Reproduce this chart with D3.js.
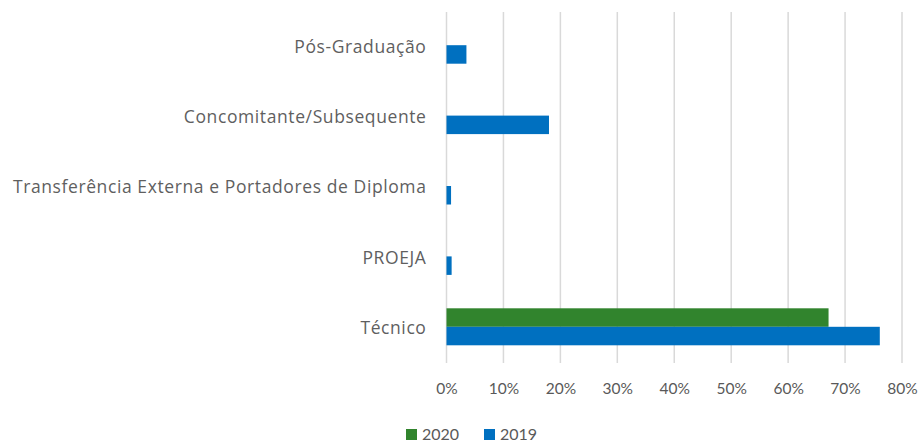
<!DOCTYPE html>
<html><head><meta charset="utf-8">
<script src="https://cdn.jsdelivr.net/npm/d3@7"></script>
<style>body{margin:0;background:#fff}</style>
</head><body>
<svg id="c" width="924" height="444"></svg>
<script>
const categories = ["Pós-Graduação","Concomitante/Subsequente","Transferência Externa e Portadores de Diploma","PROEJA","Técnico"];
const series = ["2020","2019"];
const values2020 = [null, null, null, null, 67.1];
const values2019 = [3.5, 18.0, 0.8, 0.9, 76.1];
const xTicks = [0,10,20,30,40,50,60,70,80];
const colors = {"2020":"#31842D","2019":"#0070C0"};

const svg = d3.select("#c");
const font = "Lato, 'Open Sans', sans-serif";
const m = {left:446.5, right:902, top:10, bottom:362};
const x = d3.scaleLinear().domain([0,80]).range([m.left, m.right]);
const y = d3.scaleBand().domain(categories).range([m.top, m.bottom]);
const barH = 18.5;

// gridlines
svg.append("g").selectAll("line").data(xTicks).join("line")
  .attr("x1", d=>x(d)).attr("x2", d=>x(d))
  .attr("y1", 12).attr("y2", 363)
  .attr("stroke", "#d9d9d9").attr("stroke-width", 1.5);

// x tick labels
const xa = svg.append("g").attr("transform", `translate(0,${m.bottom})`)
  .call(d3.axisBottom(x).tickValues(xTicks).tickFormat(d=>d+"%").tickSize(0).tickPadding(21));
xa.select(".domain").remove();
xa.selectAll("text").attr("fill","#595959").attr("font-size","15.5px").attr("font-family",font);

// y labels
const ya = svg.append("g").attr("transform", `translate(${m.left-20},0)`)
  .call(d3.axisLeft(y).tickSize(0).tickPadding(0));
ya.select(".domain").remove();
ya.selectAll("text").attr("fill","#5f5f5f").attr("font-size","17.5px").attr("font-family","'Open Sans', sans-serif")
  .attr("letter-spacing","0.6px").attr("dy","0.42em");

const center = c => y(c) + y.bandwidth()/2;
// bars
svg.append("g").selectAll("rect").data(categories.map((c,i)=>({c,v:values2020[i]})).filter(d=>d.v!=null))
  .join("rect").attr("x", x(0)).attr("y", d=>center(d.c)-barH).attr("width", d=>x(d.v)-x(0)).attr("height", barH)
  .attr("fill", colors["2020"]);
svg.append("g").selectAll("rect").data(categories.map((c,i)=>({c,v:values2019[i]})).filter(d=>d.v!=null))
  .join("rect").attr("x", x(0)).attr("y", d=>center(d.c)).attr("width", d=>x(d.v)-x(0)).attr("height", barH)
  .attr("fill", colors["2019"]);

// legend
const lg = svg.append("g").attr("transform","translate(406,428)");
const items = lg.selectAll("g").data(series).join("g").attr("transform",(d,i)=>`translate(${i*78},0)`);
items.append("rect").attr("width",11).attr("height",11).attr("y",1).attr("fill",d=>colors[d]);
items.append("text").attr("x",16).attr("y",11.5).text(d=>d).attr("fill","#595959")
  .attr("font-size","16px").attr("font-family",font);
</script>
</body></html>
